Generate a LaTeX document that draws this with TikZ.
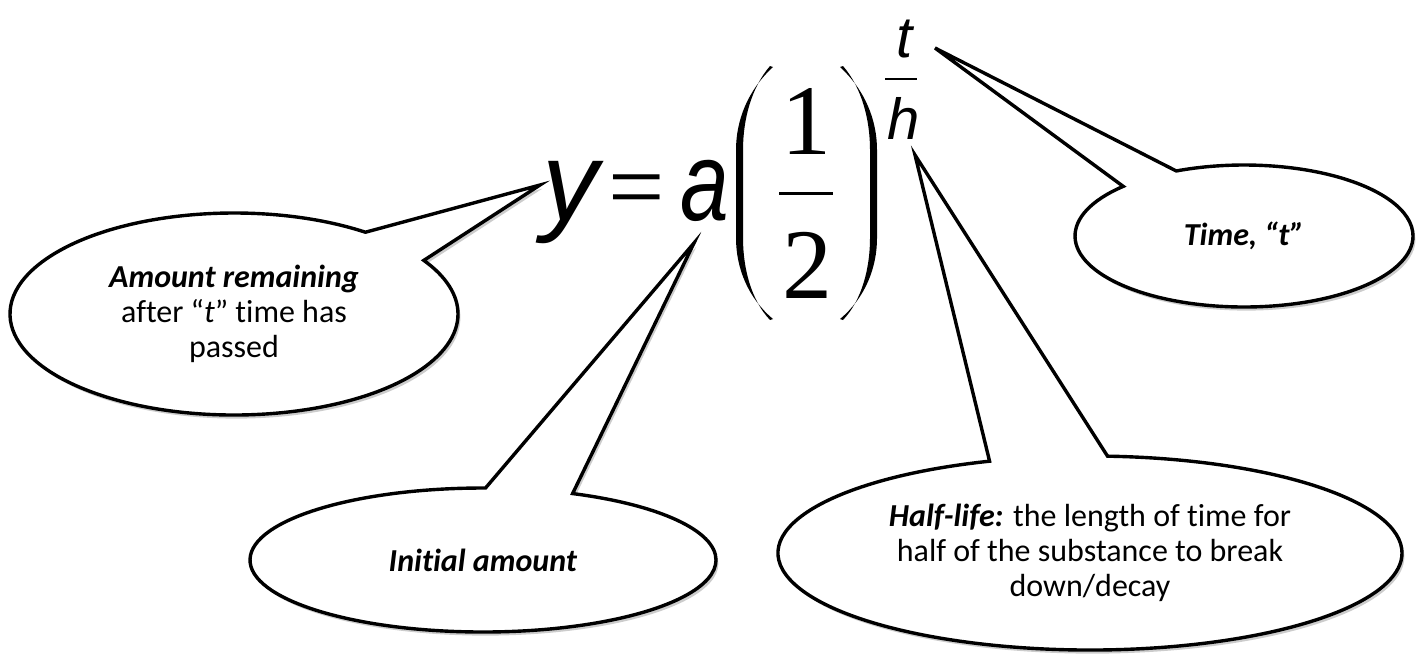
\documentclass[tikz,border=0pt]{standalone}
\usepackage{fontspec}
\setmainfont{Carlito}[Ligatures={TeX,NoCommon}]
\newfontfamily\eqsans{Liberation Sans}
\newfontfamily\eqserif{Liberation Serif}
\usetikzlibrary{shapes.callouts}
\usetikzlibrary{shadows}

\begin{document}
\begin{tikzpicture}[x=0.5pt, y=-0.5pt,
  bubble/.style={ellipse callout, draw, fill=white, line width=1.7pt,
    callout pointer arc=22, inner sep=0pt, align=center,
    font=\fontsize{16}{17.5}\selectfont,
    drop shadow={shadow xshift=1.2pt, shadow yshift=-1.8pt, fill=black!20, opacity=1}},
  glyph/.style={inner sep=0pt, anchor=base},
  bigital/.style={font=\eqsans\itshape\fontsize{56}{56}\selectfont},
  bigroman/.style={font=\eqserif\fontsize{50}{50}\selectfont},
  smallital/.style={font=\eqsans\itshape\fontsize{29}{29}\selectfont}]

\useasboundingbox (0,0) rectangle (1416,660);

%---------------------------------------
% The formula
%---------------------------------------
\node[glyph, bigital]  (ysym)   at (570,220) {y};
\node[glyph, bigroman] (eqsign) at (637,220) {=};
\node[glyph, bigital]  (acoef)  at (705,220) {\scalebox{0.78}[1]{a}};

% fraction 1/2
\node[glyph, bigroman] (one) at (806,154) {1};
\node[glyph, bigroman] (two) at (807,298) {2};
\draw[line width=1.5pt] (779,193) -- (833,193);

% big parentheses
\fill (773,67) .. controls (748,90) and (736,120) .. (736,150) -- (736,238)
  .. controls (736,268) and (748,298) .. (773,319)
  -- (770,320) .. controls (751,300) and (743,268) .. (743,238) -- (743,150)
  .. controls (743,120) and (751,88) .. (770,66) -- cycle;
\fill (840,67) .. controls (865,90) and (877,120) .. (877,150) -- (877,238)
  .. controls (877,268) and (865,298) .. (840,319)
  -- (843,320) .. controls (862,300) and (870,268) .. (870,238) -- (870,150)
  .. controls (870,120) and (862,88) .. (843,66) -- cycle;

% exponent t/h
\node[glyph, smallital] (texp) at (905,57) {t};
\node[glyph, smallital] (hexp) at (904,139) {h};
\draw[line width=0.8pt] (885,79) -- (917,79);

%---------------------------------------
% Callouts
%---------------------------------------
\coordinate (tipy) at (540,185);
\coordinate (tipa) at (694,243);
\coordinate (tiph) at (915,155);
\coordinate (tipt) at (935,48);

\node[bubble, minimum width=224pt, minimum height=101pt,
      callout absolute pointer={(tipy)}] (remaining) at (234,314)
  {\textbf{\textit{Amount remaining}}\\ after “\textit{t}” time has\\ passed};

\node[bubble, minimum width=233pt, minimum height=72pt,
      callout absolute pointer={(tipa)}] (initial) at (483,560)
  {\textbf{\textit{Initial amount}}};

\node[bubble, minimum width=312pt, minimum height=97pt,
      callout absolute pointer={(tiph)}] (halflife) at (1090,553)
  {\textbf{\textit{Half-life:}} the length of time for\\ half of the substance to break\\ down/decay};

\node[bubble, minimum width=169pt, minimum height=71pt,
      callout absolute pointer={(tipt)}] (timecall) at (1244,236)
  {\textbf{\textit{Time, “t”}}};

\end{tikzpicture}
\end{document}
